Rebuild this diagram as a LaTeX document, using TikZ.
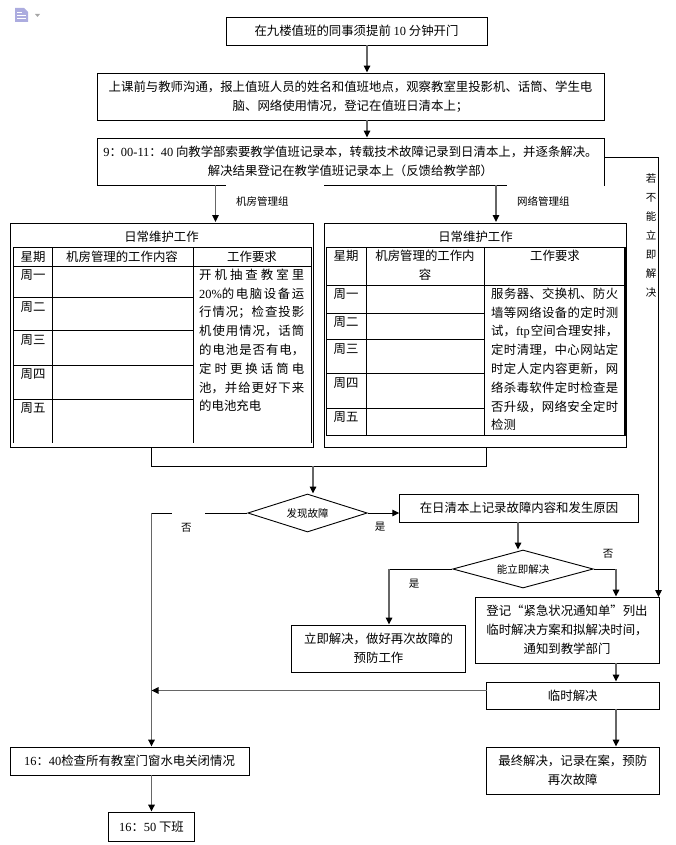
\documentclass[tikz,border=0pt]{standalone}
\usepackage{fontspec}
\setmainfont{Noto Sans CJK SC}
\newfontfamily\latfont{Liberation Serif}
\newcommand{\lat}[1]{{\latfont #1}}
\XeTeXlinebreaklocale "zh"
\XeTeXlinebreakskip=0pt plus 3pt
\usetikzlibrary{shapes.geometric,arrows.meta}
\tikzset{
  box/.style={draw=black, line width=0.9pt, fill=white, align=center, inner sep=0pt,
              font=\fontsize{12.4}{18.8}\selectfont},
  plain/.style={inner sep=0pt, align=center, font=\fontsize{12.4}{18.8}\selectfont},
  cell/.style={inner sep=0pt, anchor=north west, align=justify,
               font=\fontsize{12.4}{18.8}\selectfont\sloppy},
  tiny/.style={inner sep=0pt, font=\fontsize{10.5}{19}\selectfont},
  tag/.style={fill=white, inner xsep=0pt, inner ysep=0pt, anchor=west, align=left,
              text height=21pt, text depth=9pt, font=\fontsize{10.5}{12}\selectfont},
  check/.style={draw=black, line width=0.9pt, diamond, inner sep=0pt, aspect=3.2,
                font=\fontsize{10.5}{12}\selectfont},
  conn/.style={draw=black!60, line width=1.5pt, -{Stealth[length=7pt,width=6.5pt,inset=0pt,color=black]}},
  thinconn/.style={draw=black, line width=0.9pt, -{Stealth[length=7pt,width=6.5pt,inset=0pt,color=black]}},
  line/.style={draw=black, line width=0.9pt},
  rule/.style={draw=black, line width=0.9pt}
}
\begin{document}
\begin{tikzpicture}[x=1pt, y=-1pt]
  \useasboundingbox (0, 0) rectangle (676, 845);

  \fill [blue!45!gray!45] (15, 8) -- (24, 8) -- (28, 12) -- (28, 22) -- (15, 22) -- cycle;
  \draw [white, line width=0.7pt] (17, 12) -- (22, 12) (17, 15) -- (26, 15) (17, 18) -- (26, 18);
  \fill [black!35] (35, 14) -- (40, 14) -- (37.5, 17) -- cycle;

  \node [box, minimum width=261, minimum height=28] (start) at (356.5, 31)
    {在九楼值班的同事须提前 \lat{10} 分钟开门};
  \node [box, minimum width=507, minimum height=47] (talk) at (350.5, 96.5)
    {上课前与教师沟通，报上值班人员的姓名和值班地点，观察教室里投影机、话筒、学生电\\
     脑、网络使用情况，登记在值班日清本上；};
  \node [box, minimum width=507, minimum height=47] (fetch) at (350.5, 161.5)
    {\lat{9}：\hspace{-1pt}\lat{00-11}：\hspace{-1pt}\lat{40} 向教学部索要教学值班记录本，转载技术故障记录到日清本上，并逐条解决。\\
     解决结果登记在教学值班记录本上（反馈给教学部）};

  \node [tag, text width=98pt] (tagroom) at (226, 199) {\hspace*{10pt}机房管理组};
  \node [tag, text width=97pt] (tagnet) at (507, 199) {\hspace*{10pt}网络管理组};

  \node [box, minimum width=303, minimum height=224] (room) at (161.5, 335) {};
  \node [box, minimum width=302.5, minimum height=224] (net) at (475.5, 335) {};
  \node [plain] (roomtitle) at (161.5, 237) {日常维护工作};
  \node [plain] (nettitle) at (475.5, 237) {日常维护工作};

  \draw [rule] (13, 443) -- (13, 247) -- (311, 247) -- (311, 443);
  \draw [rule] (52, 247) -- (52, 443) (193, 247) -- (193, 443);
  \foreach \rowy in {266, 297, 330, 365, 399}
    \draw [rule] (13, \rowy) -- (193, \rowy);
  \draw [rule] (193, 266) -- (311, 266);
  \node [plain] (roomday) at (33, 257) {星期};
  \node [plain] (roomwork) at (122, 257) {机房管理的工作内容};
  \node [plain] (roomneed) at (252, 257) {工作要求};
  \foreach \dayname/\dayy in {周一/275, 周二/307, 周三/340, 周四/374, 周五/408}
    \node [plain] at (33, \dayy) {\dayname};
  \node [cell, text width=105pt] (roomtext) at (199, 268.5)
    {开机抽查教室里\linebreak
     \lat{20\%}的电脑设备运\linebreak
     行情况；检查投影\linebreak
     机使用情况，话筒\linebreak
     的电池是否有电，\linebreak
     定时更换话筒电\linebreak
     池，并给更好下来\linebreak
     的电池充电};

  \draw [rule] (326, 247) rectangle (624, 435);
  \draw [line width=1.8pt] (625, 247) -- (625, 436);
  \draw [rule] (366, 247) -- (366, 435) (484, 247) -- (484, 435);
  \foreach \rowy in {285, 313, 339, 373, 408}
    \draw [rule] (326, \rowy) -- (484, \rowy);
  \draw [rule] (484, 285) -- (624, 285);
  \node [plain] (netday) at (346, 256) {星期};
  \node [plain] (network) at (425, 265) {机房管理的工作内\\容};
  \node [plain] (netneed) at (555, 256) {工作要求};
  \foreach \dayname/\dayy in {周一/294, 周二/322, 周三/349, 周四/383, 周五/417}
    \node [plain] at (346, \dayy) {\dayname};
  \node [cell, text width=127pt] (nettext) at (491, 287.5)
    {服务器、交换机、防火\linebreak
     墙等网络设备的定时测\linebreak
     试，\lat{ftp}\hspace{1pt}空间合理安排，\linebreak
     定时清理，中心网站定\linebreak
     时定人定内容更新，网\linebreak
     络杀毒软件定时检查是\linebreak
     否升级，网络安全定时\linebreak
     检测};

  \node [check, minimum width=119.5, minimum height=38] (found) at (307.5, 513) {发现故障};
  \node [box, minimum width=238.5, minimum height=28] (note) at (519, 508)
    {在日清本上记录故障内容和发生原因};
  \node [check, minimum width=140.5, minimum height=38] (cando) at (523, 569) {能立即解决};
  \node [box, minimum width=184, minimum height=66] (notice) at (567, 630)
    {登记“紧急状况通知单”列出\\临时解决方案和拟解决时间，\\通知到教学部门};
  \node [box, minimum width=173.5, minimum height=47] (fixnow) at (378.5, 648.5)
    {立即解决，做好再次故障的\\预防工作};
  \node [box, minimum width=172.5, minimum height=27] (temp) at (572.75, 695.5) {临时解决};
  \node [box, minimum width=172.5, minimum height=47] (final) at (572.75, 770.5)
    {最终解决，记录在案，预防\\再次故障};
  \node [box, minimum width=239, minimum height=28] (inspect) at (129.5, 761)
    {\lat{16}：\lat{40}检查所有教室门窗水电关闭情况};
  \node [box, minimum width=86, minimum height=29] (leave) at (151.5, 826.5)
    {\lat{16}：\lat{50} 下班};

  \coordinate (midin) at (367, 120);
  \coordinate (roomin) at (215.5, 222);
  \coordinate (netin) at (496, 222);
  \coordinate (trunk) at (151.5, 513);
  \coordinate (merge) at (313, 466);
  \coordinate (tempout) at (486.5, 690.5);
  \coordinate (notein) at (518, 522);
  \coordinate (rightin) at (616, 569);
  \coordinate (leftin) at (389, 569);
  \coordinate (tempin) at (616, 663);
  \coordinate (loopin) at (658.5, 597);
  \coordinate (loopout) at (658.5, 157.5);

  \draw [conn] (midin |- start.south) -- (midin |- talk.north);
  \draw [conn] (midin) -- (midin |- fetch.north);
  \draw [conn] (fetch.south -| roomin) -- (roomin);
  \draw [conn] (fetch.south -| netin) -- (netin);
  \draw [line] (fetch.east |- loopout) -- (loopout);
  \draw [thinconn] (loopout) -- (loopin);
  \draw [line] (151.5, 447) -- (151.5, 466) -- (486.5, 466) -- (486.5, 447);
  \draw [conn] (merge) -- (merge |- found.north);
  \draw [line] (found.west) -- (trunk);
  \draw [conn] (trunk) -- (trunk |- inspect.north);
  \node [tag, text width=33pt] (tagno) at (172, 525) {\hspace*{9pt}否};
  \draw [thinconn] (found.east) -- (found.east -| note.west);
  \draw [conn] (notein) -- (notein |- cando.north);
  \draw [line] (cando.east) -- (rightin);
  \draw [conn] (rightin) -- (rightin |- notice.north);
  \draw [line] (cando.west) -- (leftin);
  \draw [conn] (leftin) -- (leftin |- fixnow.north);
  \draw [conn] (tempin) -- (tempin |- temp.north);
  \draw [conn] (tempin |- temp.south) -- (tempin |- final.north);
  \draw [conn] (tempout) -- (tempout -| trunk);
  \draw [conn] (inspect.south -| trunk) -- (leave.north -| trunk);

  \node [tiny] (yesfound) at (380, 527) {是};
  \node [tiny] (nocan) at (608, 554) {否};
  \node [tiny] (yescan) at (414, 584) {是};
  \node [tiny, text width=11pt, align=center] (unable) at (651, 236)
    {若\\不\\能\\立\\即\\解\\决};
\end{tikzpicture}
\end{document}
